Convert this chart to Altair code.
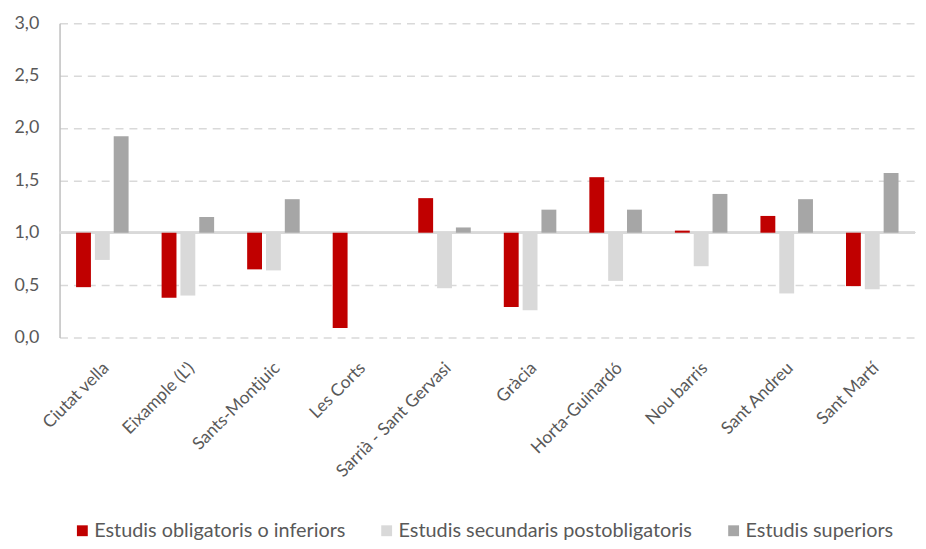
import altair as alt
import pandas as pd

districtes = ["Ciutat vella", "Eixample (L')", "Sants-Montjuic", "Les Corts",
              "Sarrià - Sant Gervasi", "Gràcia", "Horta-Guinardó", "Nou barris",
              "Sant Andreu", "Sant Martí"]
series = ["Estudis obligatoris o inferiors", "Estudis secundaris postobligatoris",
          "Estudis superiors"]
obligatoris = [0.48, 0.38, 0.65, 0.09, 1.33, 0.29, 1.53, 1.02, 1.16, 0.49]
secundaris = [0.74, 0.40, 0.64, 1.01, 0.47, 0.26, 0.54, 0.68, 0.42, 0.46]
superiors = [1.92, 1.15, 1.32, 1.00, 1.05, 1.22, 1.22, 1.37, 1.32, 1.57]
colors = ["#c00000", "#d9d9d9", "#a6a6a6"]

rows = []
for s, vals in zip(series, [obligatoris, secundaris, superiors]):
    for d, v in zip(districtes, vals):
        rows.append({"districte": d, "serie": s, "valor": v})
df = pd.DataFrame(rows)

FONT = "Lato"
TXT = "#595959"

bars = alt.Chart(df).mark_bar().encode(
    x=alt.X("districte:N", sort=districtes, title=None,
            scale=alt.Scale(paddingInner=0.386, paddingOuter=0.193),
            axis=alt.Axis(labelAngle=-45, labelAlign="right", labelBaseline="middle",
                          labelPadding=28, labelOffset=4, ticks=False, domain=False,
                          labelFont=FONT, labelFontSize=17.5, labelColor=TXT,
                          labelLimit=300)),
    xOffset=alt.XOffset("serie:N", sort=series,
                        scale=alt.Scale(paddingInner=0.21, paddingOuter=0)),
    y=alt.Y("valor:Q", title=None,
            scale=alt.Scale(domain=[0, 3], nice=False),
            axis=alt.Axis(values=[0, 0.5, 1, 1.5, 2, 2.5, 3],
                          labelExpr="replace(format(datum.value, '.1f'), '.', ',')",
                          ticks=False, domain=True, domainColor="#bfbfbf",
                          domainWidth=1.5, grid=True, gridColor="#d9d9d9",
                          gridDash=[8, 6], gridWidth=1.5,
                          labelFont=FONT, labelFontSize=18, labelColor=TXT,
                          labelPadding=21)),
    y2=alt.datum(1),
    color=alt.Color("serie:N", sort=series,
                    scale=alt.Scale(domain=series, range=colors),
                    legend=alt.Legend(title=None, orient="none", direction="horizontal",
                                      legendX=13, legendY=502,
                                      symbolType="square", symbolSize=120,
                                      symbolStrokeWidth=0,
                                      labelFont=FONT, labelFontSize=20,
                                      labelColor=TXT, labelLimit=400,
                                      columnPadding=31, labelOffset=2)),
)

base_line = alt.Chart(df).mark_rule(color="#d9d9d9", strokeWidth=2).encode(
    y=alt.datum(1)
)

chart = alt.layer(base_line, bars).properties(
    width=863, height=317,
    autosize=alt.AutoSizeParams(type="none"),
    padding={"left": 52, "top": 13, "right": 3, "bottom": 203},
).configure(background="white").configure_view(stroke=None)

chart.save("out.html", embed_options={"renderer": "svg", "actions": False})
